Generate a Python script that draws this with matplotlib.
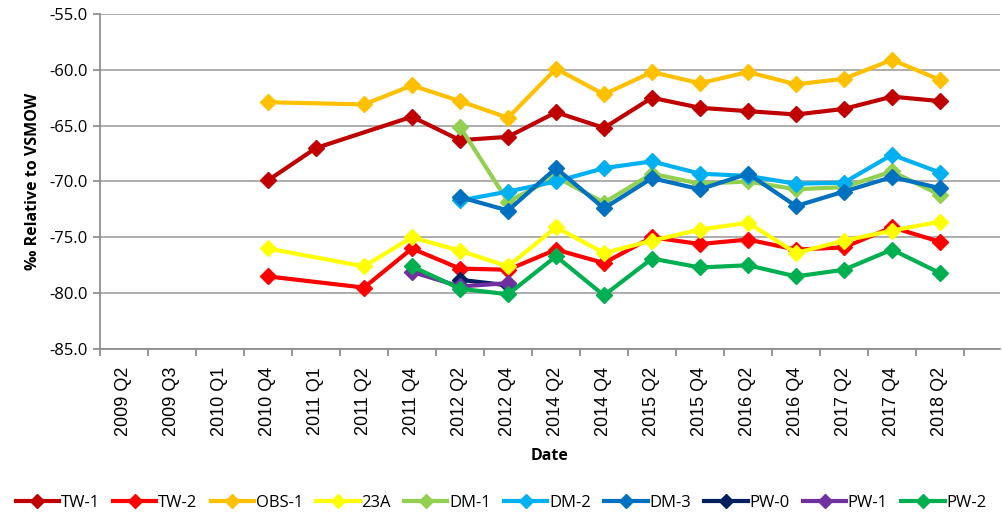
import numpy as np
import matplotlib
matplotlib.use("Agg")
import matplotlib.pyplot as plt

# ─── Data ────────────────────────────────────────────────────────────────────
dates = ["2009 Q2", "2009 Q3", "2010 Q1", "2010 Q4", "2011 Q1", "2011 Q2",
         "2011 Q4", "2012 Q2", "2012 Q4", "2014 Q2", "2014 Q4", "2015 Q2",
         "2015 Q4", "2016 Q2", "2016 Q4", "2017 Q2", "2017 Q4", "2018 Q2"]
nan = np.nan

tw1  = [nan, nan, nan, -69.9, -67.0, nan, -64.2, -66.3, -66.0, -63.8, -65.2,
        -62.5, -63.4, -63.7, -64.0, -63.5, -62.4, -62.8]
tw2  = [nan, nan, nan, -78.5, nan, -79.5, -76.0, -77.8, -77.9, -76.1, -77.3,
        -75.0, -75.6, -75.2, -76.1, -75.9, -74.1, -75.4]
obs1 = [nan, nan, nan, -62.9, nan, -63.1, -61.4, -62.8, -64.3, -59.9, -62.2,
        -60.2, -61.2, -60.2, -61.3, -60.8, -59.1, -60.9]
a23  = [nan, nan, nan, -76.0, nan, -77.6, -75.0, -76.2, -77.6, -74.1, -76.4,
        -75.3, -74.3, -73.7, -76.4, -75.3, -74.4, -73.6]
dm1  = [nan, nan, nan, nan, nan, nan, nan, -65.1, -71.8, -69.6, -71.9,
        -69.3, -70.2, -70.0, -70.7, -70.5, -69.1, -71.2]
dm2  = [nan, nan, nan, nan, nan, nan, nan, -71.7, -70.9, -70.0, -68.8,
        -68.2, -69.3, -69.5, -70.2, -70.1, -67.6, -69.2]
dm3  = [nan, nan, nan, nan, nan, nan, nan, -71.4, -72.6, -68.8, -72.4,
        -69.7, -70.7, -69.3, -72.2, -70.9, -69.6, -70.6]
pw0  = [nan, nan, nan, nan, nan, nan, nan, -78.8, -79.3, nan, nan,
        nan, nan, nan, nan, nan, nan, nan]
pw1  = [nan, nan, nan, nan, nan, nan, -78.1, -79.4, -79.1, nan, nan,
        nan, nan, nan, nan, nan, nan, nan]
pw2  = [nan, nan, nan, nan, nan, nan, -77.6, -79.6, -80.1, -76.7, -80.2,
        -76.9, -77.7, -77.5, -78.5, -77.9, -76.1, -78.2]

series = [
    ("TW-1",  tw1,  "#C00000"),
    ("TW-2",  tw2,  "#FF0000"),
    ("OBS-1", obs1, "#FFC000"),
    ("23A",   a23,  "#FFFF00"),
    ("DM-1",  dm1,  "#92D050"),
    ("DM-2",  dm2,  "#00B0F0"),
    ("DM-3",  dm3,  "#0070C0"),
    ("PW-0",  pw0,  "#002060"),
    ("PW-1",  pw1,  "#7030A0"),
    ("PW-2",  pw2,  "#00B050"),
]

plt.rcParams["font.family"] = ["Open Sans", "DejaVu Sans"]

W, H = 1002, 523
fig = plt.figure(figsize=(W / 100, H / 100), dpi=100)
ax = fig.add_axes([100 / W, 1 - 349 / H, 900 / W, 335 / H])

x = np.arange(len(dates))
for name, vals, col in series:
    v = np.array(vals, dtype=float)
    ok = ~np.isnan(v)
    ax.plot(x[ok], v[ok], color=col, lw=3, marker="D", ms=8.5,
            label=name, zorder=3)

yt = np.arange(-85, -54, 5)
ax.set_ylim(-85, -55)
ax.set_yticks(yt)
ax.set_yticklabels([f"{t:.1f}" for t in yt], fontsize=12)
ax.set_xlim(-0.5, 18.25)
ax.set_xticks(x)
ax.set_xticklabels(dates, rotation=90, fontsize=13, family="Liberation Sans")
ax.set_xticks(np.arange(-0.5, 18, 1), minor=True)
ax.tick_params(axis="x", which="major", length=0, pad=13)
ax.tick_params(axis="x", which="minor", length=5, color="#888888", width=1.2)
ax.tick_params(axis="y", length=5, color="#888888", width=1.2, pad=4)

ax.grid(axis="y", color="#A0A0A0", lw=1.2, zorder=0)
for s in ["top", "right"]:
    ax.spines[s].set_visible(False)
for s in ["left", "bottom"]:
    ax.spines[s].set_color("#888888")
    ax.spines[s].set_linewidth(1.2)

ax.set_xlabel("Date", fontsize=11.5, fontweight="bold", labelpad=8)
ax.set_ylabel("‰ Relative to VSMOW", fontsize=11.5, fontweight="bold", labelpad=6)

fig.legend(loc="center", bbox_to_anchor=(0.5, 1 - 503 / H), ncol=10,
           frameon=False, fontsize=12, handlelength=2.6, handletextpad=0.1,
           columnspacing=0.8, markerscale=0.8)

fig.savefig("out.png", dpi=100)
